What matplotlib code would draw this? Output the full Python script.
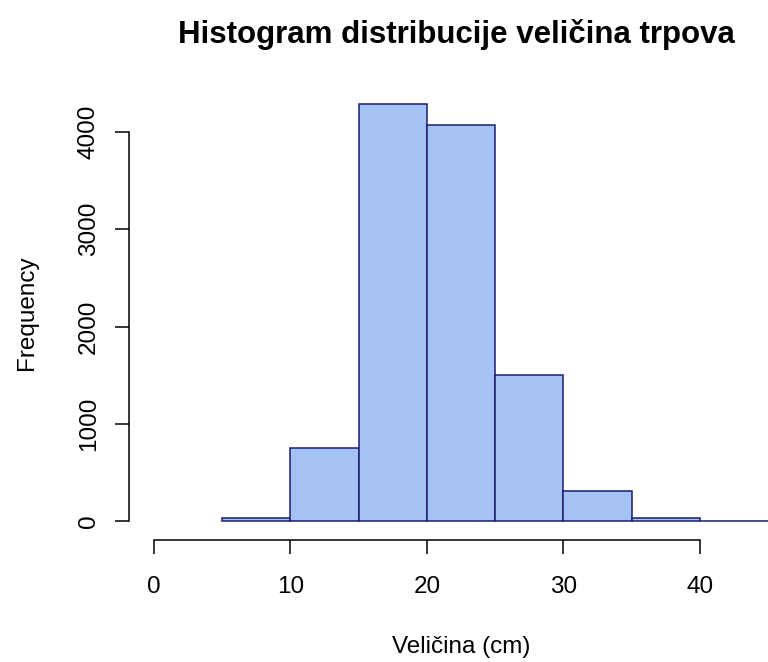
#!/usr/bin/env python3
"""Histogram of fish sizes, R base-graphics look."""

import matplotlib

matplotlib.use("Agg")
import matplotlib.pyplot as plt

# bin edges (cm) and counts per bin
bin_left = [5, 10, 15, 20, 25, 30, 35, 40, 45]
bin_width = 5
counts = [30, 750, 4290, 4070, 1500, 310, 30, 3, 0]

x_ticks = [0, 10, 20, 30, 40]
y_ticks = [0, 1000, 2000, 3000, 4000]

FILL = "#a4c2f4"
EDGE = "#1c1c6b"

plt.rcParams["font.family"] = ["Liberation Sans", "DejaVu Sans"]

fig = plt.figure(figsize=(7.68, 6.62), dpi=100)
# plot region mirrors R's usr box (-1.8..46.8, -4%..+4%), right part cut by image edge
ax = fig.add_axes([129 / 768, 1 - 538 / 662, (793 - 129) / 768, (538 - 87) / 662])

ax.bar(bin_left, counts, width=bin_width, align="edge", color=FILL,
       edgecolor=EDGE, linewidth=1.1)

ymax = max(counts)
ax.set_xlim(-1.8, 46.8)
ax.set_ylim(-0.04 * ymax, 1.04 * ymax)

for s in ("top", "right"):
    ax.spines[s].set_visible(False)
ax.spines["left"].set_bounds(y_ticks[0], y_ticks[-1])
ax.spines["bottom"].set_bounds(x_ticks[0], x_ticks[-1])
ax.spines["bottom"].set_position(("outward", 1.5))
for s in ("left", "bottom"):
    ax.spines[s].set_linewidth(1.1)

ax.set_xticks(x_ticks)
ax.set_yticks(y_ticks)
ax.set_yticklabels([str(v) for v in y_ticks], rotation=90, va="center")
ax.tick_params(axis="both", length=10, width=1.1, labelsize=17.5)
ax.tick_params(axis="x", pad=16)
ax.tick_params(axis="y", pad=11)

ax.set_xlabel("Veličina (cm)", fontsize=17.5, labelpad=27)
ax.set_ylabel("Frequency", fontsize=17.5, labelpad=29)

fig.text(456 / 768, 1 - 35 / 662, "Histogram distribucije veličina trpova",
         ha="center", va="center", fontsize=22.5, fontweight="bold")

fig.savefig("out.png", dpi=100)
